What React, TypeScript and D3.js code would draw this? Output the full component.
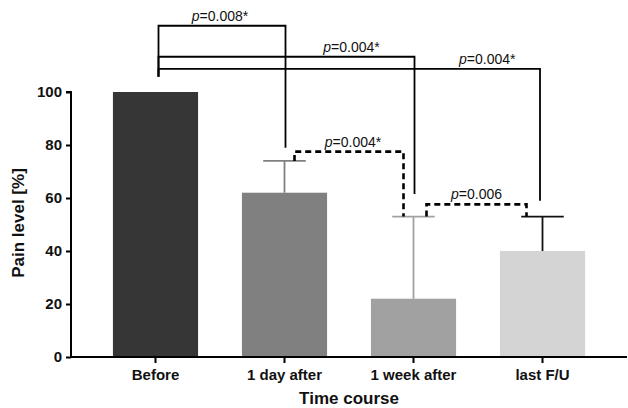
import React, { useEffect, useRef } from 'react';
import * as d3 from 'd3';

const categories = ['Before', '1 day after', '1 week after', 'last F/U'];
const painLevel = [100, 62, 22, 40];
const errorTop = [null, 74, 53, 53];
const yTicks = [0, 20, 40, 60, 80, 100];

// pairwise comparisons: bar indices, p label, bracket height (in % units)
const comparisons = [
  { from: 0, to: 1, p: '=0.008*', level: 125, endLevel: 79, dashed: false },
  { from: 0, to: 2, p: '=0.004*', level: 113.3, endLevel: 61.5, dashed: false },
  { from: 0, to: 3, p: '=0.004*', level: 108.7, endLevel: 59, dashed: false },
  { from: 1, to: 2, p: '=0.004*', level: 77.5, endLevel: 53, dashed: true },
  { from: 2, to: 3, p: '=0.006', level: 57.6, endLevel: 53, dashed: true },
];
// horizontal shift of each p label from its bracket middle (px)
const labelShift = [-2, 65, 138, 4, 0];

const barColors = ['#363636', '#808080', '#a1a1a1', '#d4d4d4'];
const errColors = ['#000', '#808080', '#a1a1a1', '#111'];

function App() {
  const ref = useRef<SVGSVGElement>(null);

  useEffect(() => {
    const width = 628, height = 408;
    const svg = d3.select(ref.current).attr('width', width).attr('height', height);
    svg.selectAll('*').remove();
    const font = 'Liberation Sans, Arial, sans-serif';

    const x = d3.scaleBand().domain(categories).range([71, 627]).paddingInner(0.34).paddingOuter(0.325);
    const y = d3.scaleLinear().domain([0, 100]).range([357, 92]);
    const cx = (i: number) => x(categories[i])! + x.bandwidth() / 2;

    // bars
    svg.append('g').selectAll('rect').data(painLevel).join('rect')
      .attr('x', (_, i) => x(categories[i])!)
      .attr('y', (d) => y(d))
      .attr('width', x.bandwidth())
      .attr('height', (d) => y(0) - y(d))
      .attr('fill', (_, i) => barColors[i]);

    // error bars (upper only)
    const capW = x.bandwidth() / 2;
    errorTop.forEach((e, i) => {
      if (e == null) return;
      const g = svg.append('g').attr('stroke', errColors[i]).attr('stroke-width', 1.8);
      g.append('line').attr('x1', cx(i)).attr('x2', cx(i)).attr('y1', y(painLevel[i])).attr('y2', y(e));
      g.append('line').attr('x1', cx(i) - capW / 2).attr('x2', cx(i) + capW / 2).attr('y1', y(e)).attr('y2', y(e));
    });

    // axes
    const yAxis = svg.append('g').attr('transform', 'translate(71,0)')
      .call(d3.axisLeft(y).tickValues(yTicks).tickSize(5).tickPadding(4));
    yAxis.select('.domain').attr('stroke-width', 2).attr('d', `M-5,${y(100)}H0V${y(0)}`);
    yAxis.selectAll('.tick line').attr('stroke-width', 2);
    yAxis.selectAll('text').attr('font-family', font).attr('font-size', 15).attr('font-weight', 'bold').attr('fill', '#111');

    const xAxis = svg.append('g').attr('transform', `translate(0,${y(0)})`)
      .call(d3.axisBottom(x).tickSize(6).tickPadding(6));
    xAxis.select('.domain').attr('stroke-width', 2).attr('d', `M71,0H627`);
    xAxis.selectAll('.tick line').attr('stroke-width', 2);
    xAxis.selectAll('text').attr('font-family', font).attr('font-size', 15).attr('font-weight', 'bold').attr('fill', '#111');

    svg.append('text').attr('x', 349).attr('y', 404).attr('text-anchor', 'middle')
      .attr('font-family', font).attr('font-size', 17).attr('font-weight', 'bold').attr('fill', '#111')
      .text('Time course');
    svg.append('text').attr('transform', 'translate(24,223) rotate(-90)').attr('text-anchor', 'middle')
      .attr('font-family', font).attr('font-size', 17).attr('font-weight', 'bold').attr('fill', '#111')
      .text('Pain level [%]');

    // significance brackets
    const leftDrop = 105.8;
    comparisons.forEach((c, k) => {
      const x1 = c.dashed ? cx(c.from) + (c.from === 1 ? 10 : 13) : cx(0) + 3;
      const x2 = c.dashed ? cx(c.to) - (c.to === 2 ? 10 : 16) : cx(c.to) + (c.to === 3 ? -2.5 : 1);
      const y1 = c.dashed ? y(c.from === 1 ? 74 : 53) : y(leftDrop);
      const path = d3.path();
      path.moveTo(x1, y1);
      path.lineTo(x1, y(c.level));
      path.lineTo(x2, y(c.level));
      path.lineTo(x2, y(c.endLevel));
      svg.append('path').attr('d', path.toString()).attr('fill', 'none')
        .attr('stroke', '#000').attr('stroke-width', c.dashed ? 2.6 : 1.8)
        .attr('stroke-dasharray', c.dashed ? '6,4' : null);
      const t = svg.append('text').attr('x', (x1 + x2) / 2 + labelShift[k])
        .attr('y', y(c.level) - 5).attr('text-anchor', 'middle')
        .attr('font-family', font).attr('font-size', 14).attr('fill', '#111');
      t.append('tspan').attr('font-style', 'italic').text('p');
      t.append('tspan').text(c.p);
    });
  }, []);

  return <svg ref={ref} style={{ position: 'absolute', left: 0, top: 0 }}></svg>;
}

export default App;
